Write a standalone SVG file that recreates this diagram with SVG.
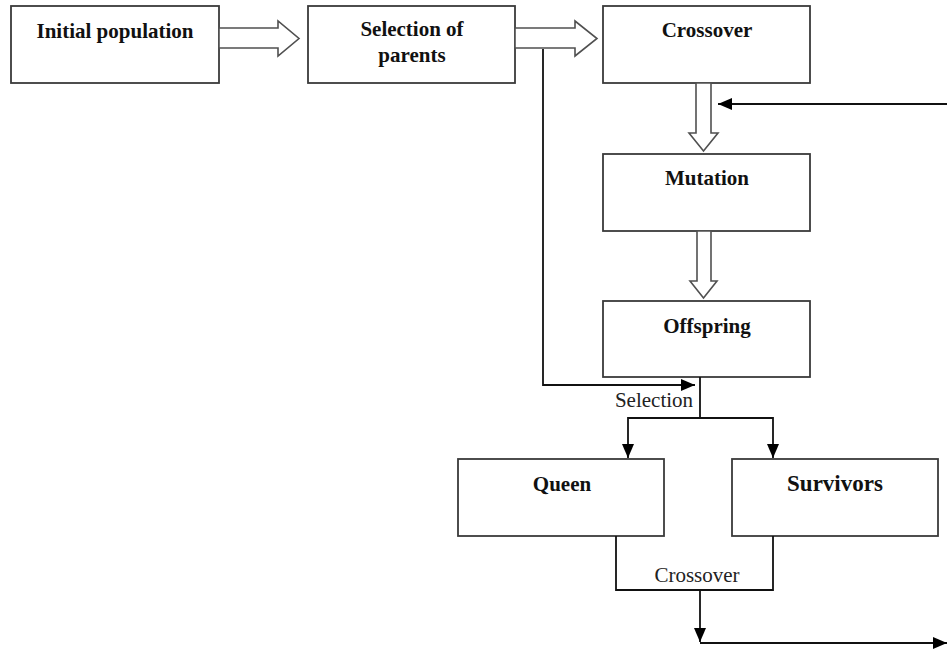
<svg xmlns="http://www.w3.org/2000/svg" width="947" height="649" viewBox="0 0 947 649">
<style>
.box{fill:#fff;stroke:#3a3a3a;stroke-width:1.8}
.hol{fill:#fff;stroke:#505050;stroke-width:1.6}
.con{fill:none;stroke:#111;stroke-width:1.8}
.t{font-family:"Liberation Serif","Times New Roman",serif;font-size:21px;font-weight:bold;fill:#111;text-anchor:middle}
.l{font-family:"Liberation Serif","Times New Roman",serif;font-size:21px;fill:#222;text-anchor:middle}
</style>
<defs>
<marker id="ah" markerUnits="userSpaceOnUse" markerWidth="14" markerHeight="12" refX="14" refY="6" orient="auto">
<path d="M0,0 L14,6 L0,12 z" fill="#000"/>
</marker>
</defs>
<rect width="947" height="649" fill="#fff"/>
<g id="n-initial"><rect class="box" x="11" y="6" width="208" height="77"/><text class="t" x="115" y="38">Initial population</text></g>
<g id="n-selection"><rect class="box" x="308" y="6" width="207" height="77"/><text class="t" x="412" y="36">Selection of</text><text class="t" x="412" y="62">parents</text></g>
<g id="n-crossover"><rect class="box" x="603" y="6" width="207" height="77"/><text class="t" x="707" y="37">Crossover</text></g>
<g id="n-mutation"><rect class="box" x="603" y="154" width="207" height="77"/><text class="t" x="707" y="185">Mutation</text></g>
<g id="n-offspring"><rect class="box" x="603" y="301" width="207" height="76"/><text class="t" x="707" y="333">Offspring</text></g>
<g id="n-queen"><rect class="box" x="458" y="459" width="206" height="77"/><text class="t" x="562" y="491">Queen</text></g>
<g id="n-survivors"><rect class="box" x="732" y="459" width="206" height="77"/><text class="t" x="835" y="491" style="font-size:23px">Survivors</text></g>
<g id="connectors">
<polygon class="hol" points="219,28 278,28 278,21 299,38.5 278,56 278,48 219,48"/>
<polygon class="hol" points="515,28 575,28 575,21 597,38.5 575,56 575,48 515,48"/>
<polygon class="hol" points="696,83 711,83 711,133 718,133 703.5,151 689,133 696,133"/>
<polygon class="hol" points="697,231 711,231 711,281 717,281 703.5,298 690,281 697,281"/>
<path class="con" d="M543,49 V385 H695" marker-end="url(#ah)"/>
<path class="con" d="M947,104 H718" marker-end="url(#ah)"/>
<path class="con" d="M700,377 V418 H628 V458" marker-end="url(#ah)"/>
<path class="con" d="M700,418 H773 V458" marker-end="url(#ah)"/>
<path class="con" d="M616,536 V590 H773 V536"/>
<path class="con" d="M700,590 V642" marker-end="url(#ah)"/>
<path class="con" d="M700,643 H947" marker-end="url(#ah)"/>
<text class="l" x="654" y="407">Selection</text>
<text class="l" x="697" y="582">Crossover</text>
</g>
</svg>
